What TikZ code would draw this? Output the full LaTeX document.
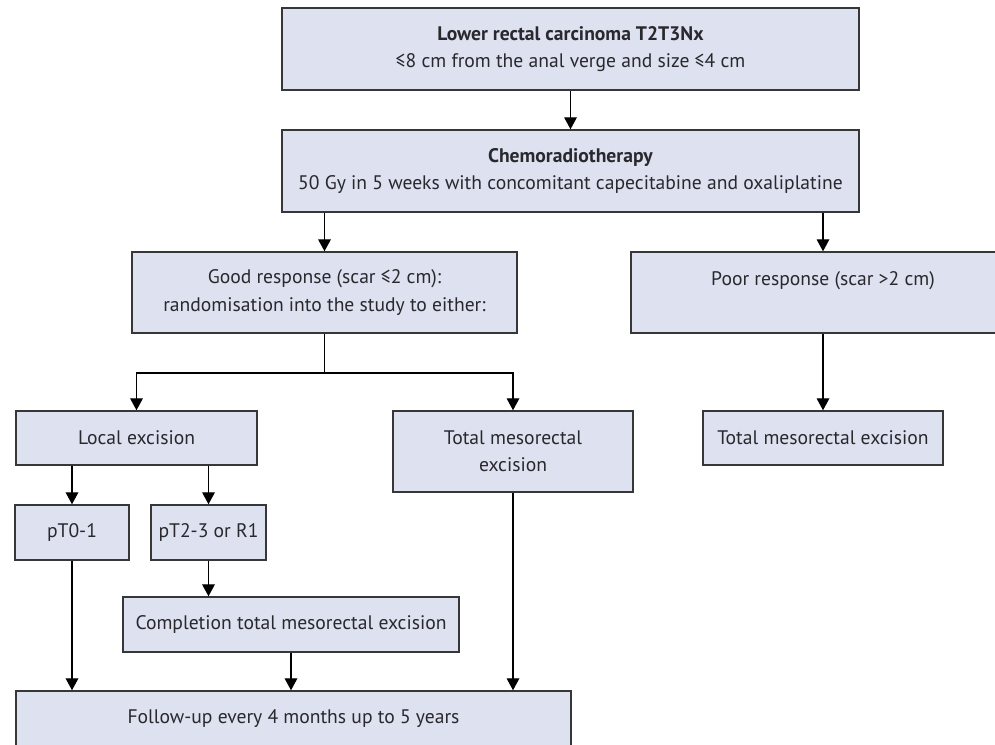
\documentclass[tikz,border=0pt]{standalone}
\usepackage{fontspec}
\setmainfont{PT Sans}
\usetikzlibrary{arrows.meta}
\definecolor{boxfill}{RGB}{221,225,240}
\definecolor{boxline}{RGB}{55,55,55}
\definecolor{txt}{RGB}{40,40,45}

\begin{document}
\begin{tikzpicture}[x=0.75pt,y=-0.75pt,>={Triangle[length=9pt,width=9.5pt]},
    box/.style={draw=boxline,fill=boxfill,line width=1.1pt,align=center,
      inner sep=0pt,text=txt,font=\fontsize{14.7}{20.5}\selectfont},
    sz/.style 2 args={minimum width=#1*0.75pt,minimum height=#2*0.75pt},
    link/.style={->,line width=1pt,black}]
        \useasboundingbox (0,0) rectangle (995,744);

        \node [box,sz={577}{82}] (lower) at (570.5,49)
          {\textbf{Lower rectal carcinoma T2T3Nx}\\≤8 cm from the anal verge and size ≤4 cm};
        \node [box,sz={577}{82}] (chemo) at (570.5,171)
          {\textbf{Chemoradiotherapy}\\50 Gy in 5 weeks with concomitant capecitabine and oxaliplatine};
        \node [box,sz={385}{81}] (good) at (324.5,292.5)
          {Good response (scar ≤2 cm):\\randomisation into the study to either:};
        \node [box,sz={384}{81}] (poor) at (823,292.5)
          {Poor response (scar >2 cm)\\\mbox{}};
        \node [box,sz={241}{54}] (local) at (136.5,438) {Local excision};
        \node [box,sz={240}{81}] (tmemid) at (513,451.5) {Total mesorectal\\excision};
        \node [box,sz={240}{54}] (tmeright) at (823,438) {Total mesorectal excision};
        \node [box,sz={114}{55}] (ptlow) at (72,532.5) {pT0-1};
        \node [box,sz={115}{55}] (pthigh) at (208.5,532.5) {pT2-3 or R1};
        \node [box,sz={336}{55}] (compl) at (291,624.5) {Completion total mesorectal excision};
        \node [box,sz={555}{55}] (follow) at (293.5,718.5) {Follow-up every 4 months up to 5 years};

        \coordinate (split) at (324.5,373);

        \draw [link] (lower) -- (chemo);
        \draw [link] (chemo.south -| good) -- (good);
        \draw [link] (chemo.south -| poor) -- (poor);
        \draw [line width=1pt] (good) -- (split);
        \draw [link] (split) -| (local);
        \draw [link] (split) -| (tmemid);
        \draw [link] (poor) -- (tmeright);
        \draw [link] (local.south -| ptlow) -- (ptlow);
        \draw [link] (local.south -| pthigh) -- (pthigh);
        \draw [link] (pthigh) -- (compl.north -| pthigh);
        \draw [link] (ptlow) -- (follow.north -| ptlow);
        \draw [link] (compl) -- (follow.north -| compl);
        \draw [link] (tmemid) -- (follow.north -| tmemid);
      \end{tikzpicture}
\end{document}
